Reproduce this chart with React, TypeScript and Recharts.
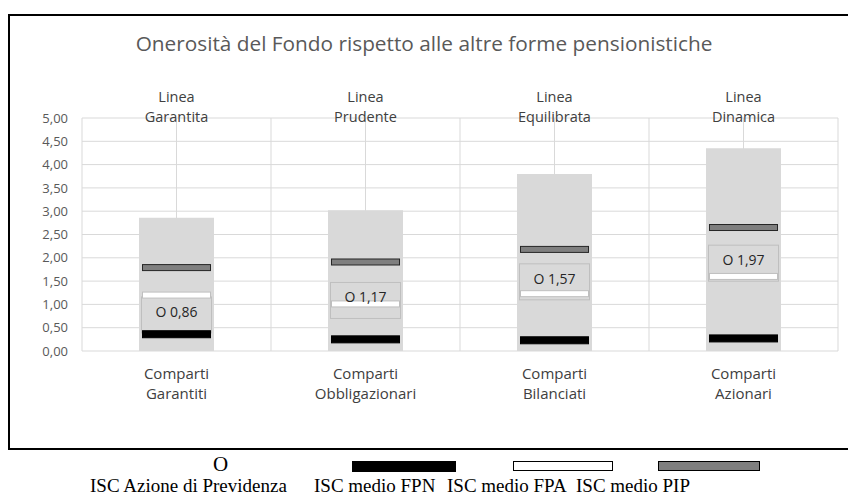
import React from "react";
import {
  ComposedChart,
  Bar,
  Scatter,
  XAxis,
  YAxis,
  CartesianGrid,
} from "recharts";

const comparti = ["Garantiti", "Obbligazionari", "Bilanciati", "Azionari"];
const linee = ["Garantita", "Prudente", "Equilibrata", "Dinamica"];
const iscMax = [2.86, 3.02, 3.8, 4.35];
const iscAzione = [0.86, 1.17, 1.57, 1.97];
const iscFpn = [0.36, 0.25, 0.23, 0.27];
const iscFpa = [1.2, 1.01, 1.23, 1.6];
const iscPip = [1.79, 1.91, 2.18, 2.65];
const yTicks = [0, 0.5, 1, 1.5, 2, 2.5, 3, 3.5, 4, 4.5, 5];
const legendNames = [
  "ISC Azione di Previdenza",
  "ISC medio FPN",
  "ISC medio FPA",
  "ISC medio PIP",
];

const chartData = comparti.map((c, i) => ({
  name: c,
  linea: linee[i],
  max: iscMax[i],
  azione: iscAzione[i],
  fpn: iscFpn[i],
  fpa: iscFpa[i],
  pip: iscPip[i],
}));

const FONT = "'Open Sans', sans-serif";
const SERIF = "'Liberation Serif', 'Times New Roman', serif";
const fmt = (v: number) => v.toFixed(2).replace(".", ",");

const marker = (fill: string, stroke: string, h: number) => (p: any) => (
  <rect
    x={p.cx - 34}
    y={p.cy - h / 2}
    width={68}
    height={h}
    fill={fill}
    stroke={stroke}
    strokeWidth={1}
  />
);

// box around the Azione di Previdenza label, drawn under the markers
const AzioneBox = (p: any) => (
  <rect
    x={p.cx - 35}
    y={p.cy - 14}
    width={70}
    height={36}
    fill="none"
    stroke="#bfbfbf"
    strokeWidth={1}
  />
);

// label text, drawn on top so the white bar never hides it
const AzioneText = (p: any) => (
  <text
    x={p.cx}
    y={p.cy + 6}
    textAnchor="middle"
    fontFamily={FONT}
    fontSize={14}
    fill="#262626"
  >
    {"O " + fmt(p.payload.azione)}
  </text>
);

const BottomTick = (p: any) => (
  <text
    x={p.x}
    y={p.y}
    textAnchor="middle"
    fontFamily={FONT}
    fontSize={15}
    fill="#404040"
  >
    <tspan x={p.x} dy={28}>Comparti</tspan>
    <tspan x={p.x} dy={20}>{p.payload.value}</tspan>
  </text>
);

const TopTick = (p: any) => (
  <text
    x={p.x}
    y={p.y}
    textAnchor="middle"
    fontFamily={FONT}
    fontSize={14.5}
    fill="#404040"
  >
    <tspan x={p.x} dy={-16}>Linea</tspan>
    <tspan x={p.x} dy={20}>{p.payload.value}</tspan>
  </text>
);

const legendSymbols = [
  <span style={{ fontFamily: SERIF, fontSize: 21 }}>O</span>,
  <div style={{ width: 104, height: 11, background: "#000" }} />,
  <div style={{ width: 98, height: 8, background: "#fff", border: "1px solid #000" }} />,
  <div style={{ width: 100, height: 8, background: "#7f7f7f", border: "1px solid #000" }} />,
];
const legendLeft = [90, 314, 447, 576];
const symbolLeft = [213, 352, 513, 658];
const symbolTop = [452, 461, 461, 461];

export default function App() {
  return (
    <div
      style={{
        position: "absolute",
        left: 0,
        top: 0,
        width: 848,
        height: 498,
        overflow: "hidden",
        background: "#fff",
      }}
    >
      <div
        style={{
          position: "absolute",
          left: 8,
          top: 14,
          width: 860,
          height: 432,
          border: "2px solid #000",
        }}
      />
      <div
        style={{
          position: "absolute",
          left: 0,
          top: 29,
          width: 848,
          textAlign: "center",
          fontFamily: FONT,
          fontSize: 20.8,
          color: "#595959",
        }}
      >
        Onerosità del Fondo rispetto alle altre forme pensionistiche
      </div>
      <div style={{ position: "absolute", left: 0, top: 0 }}>
        <ComposedChart
          width={848}
          height={498}
          data={chartData}
          margin={{ top: 88, right: 10, bottom: 87, left: 22 }}
        >
          <CartesianGrid
            stroke="#d9d9d9"
            verticalCoordinatesGenerator={({ offset }: any) =>
              Array.from({ length: 9 }, (_, i) => offset.left + (i * offset.width) / 8)
            }
          />
          <XAxis
            dataKey="name"
            axisLine={false}
            tickLine={false}
            tickSize={0}
            tickMargin={0}
            height={60}
            interval={0}
            tick={<BottomTick />}
          />
          <XAxis
            xAxisId="top"
            orientation="top"
            dataKey="linea"
            axisLine={false}
            tickLine={false}
            tickSize={0}
            tickMargin={0}
            height={30}
            interval={0}
            tick={<TopTick />}
          />
          <YAxis
            domain={[0, 5]}
            ticks={yTicks}
            tickFormatter={fmt}
            axisLine={false}
            tickLine={false}
            tickSize={0}
            tickMargin={14}
            width={60}
            tick={{ fill: "#595959", fontFamily: FONT, fontSize: 13 }}
          />
          <Bar dataKey="max" fill="#d9d9d9" barSize={75} isAnimationActive={false} />
          <Bar xAxisId="top" dataKey="max" fill="none" barSize={0} isAnimationActive={false} />
          <Scatter dataKey="azione" shape={AzioneBox} isAnimationActive={false} />
          <Scatter dataKey="fpn" shape={marker("#000", "#000", 7)} isAnimationActive={false} />
          <Scatter dataKey="fpa" shape={marker("#fff", "#bfbfbf", 6)} isAnimationActive={false} />
          <Scatter dataKey="pip" shape={marker("#7f7f7f", "#262626", 6)} isAnimationActive={false} />
          <Scatter dataKey="azione" shape={AzioneText} isAnimationActive={false} />
        </ComposedChart>
      </div>
      {legendNames.map((n, i) => (
        <React.Fragment key={n}>
          <div style={{ position: "absolute", left: symbolLeft[i], top: symbolTop[i] }}>
            {legendSymbols[i]}
          </div>
          <div
            style={{
              position: "absolute",
              left: legendLeft[i],
              top: 475,
              whiteSpace: "nowrap",
              fontFamily: SERIF,
              fontSize: 19,
              color: "#000",
            }}
          >
            {n}
          </div>
        </React.Fragment>
      ))}
    </div>
  );
}
